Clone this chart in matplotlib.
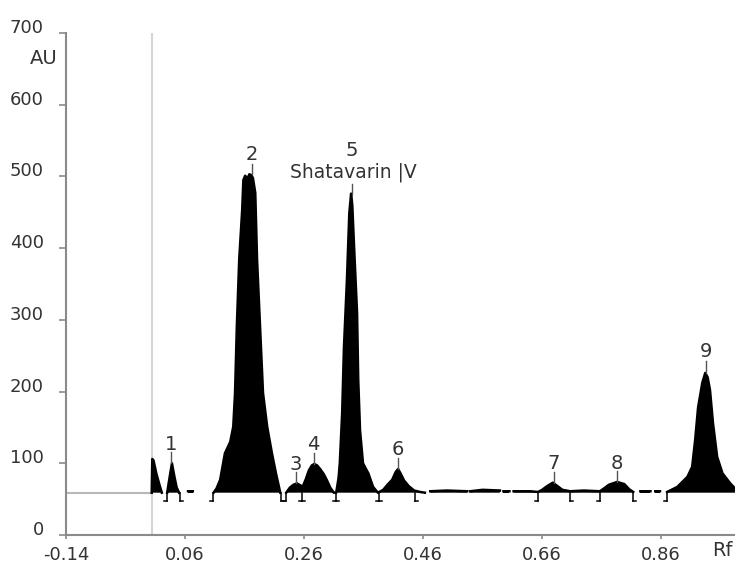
import numpy as np
import matplotlib
matplotlib.use("Agg")
import matplotlib.pyplot as plt
from matplotlib.transforms import ScaledTranslation, blended_transform_factory

# densitogram trace (Rf, AU); nan = gap in the trace
rf = [0.004, 0.005, 0.007, 0.012, 0.017, 0.021, np.nan,
      0.030, 0.034, 0.038, 0.042, 0.046, 0.050, np.nan,
      0.065, 0.073, np.nan,
      0.108, 0.113, 0.119, 0.127, 0.136, 0.141, 0.144, 0.147, 0.151, 0.156,
      0.158, 0.161, 0.165, 0.168, 0.171, 0.174, 0.178, 0.181, 0.186, 0.191,
      0.198, 0.206, 0.213, 0.220, np.nan,
      0.230, 0.236, 0.242, 0.248, 0.254, 0.258, 0.263, 0.268, 0.273, 0.277,
      0.282, 0.287, 0.293, 0.298, 0.304, 0.310, 0.314, 0.318, 0.320, 0.324,
      0.327, 0.332, 0.336, 0.339, 0.341, 0.344, 0.349, 0.351, 0.354, 0.359,
      0.364, 0.368, 0.376, 0.384, 0.393, 0.400, 0.408, 0.414, 0.418, 0.422,
      0.428, 0.436, 0.445, 0.455, 0.463, np.nan,
      0.472, 0.500, 0.534, np.nan,
      0.539, 0.560, 0.589, np.nan,
      0.595, 0.605, np.nan,
      0.612, 0.640, 0.653, 0.660, 0.668, 0.678, 0.686, 0.694, 0.707, 0.730,
      0.757, 0.764, 0.772, 0.786, 0.798, 0.806, 0.813, np.nan,
      0.825, 0.842, np.nan,
      0.850, 0.858, np.nan,
      0.870, 0.887, 0.904, 0.912, 0.917, 0.922, 0.929, 0.934, 0.938, 0.942,
      0.947, 0.954, 0.963, 0.976, 0.984]
au = [59, 106, 104, 85, 70, 59, np.nan,
      59, 80, 100, 82, 66, 59, np.nan,
      61, 61, np.nan,
      59, 65, 77, 114, 130, 151, 198, 290, 384, 453,
      495, 501, 497, 503, 502, 498, 477, 384, 290, 198,
      151, 114, 85, 59, np.nan,
      59, 66, 70, 72, 69, 68, 78, 90, 97, 99,
      97, 92, 85, 77, 66, 59, 59, 80, 100, 170,
      262, 356, 449, 476, 460, 402, 310, 216, 146, 100,
      92, 86, 67, 59, 63, 70, 77, 88, 92, 86,
      76, 68, 62, 60, 59, np.nan,
      61, 62, 61, np.nan,
      61, 63, 62, np.nan,
      61, 61, np.nan,
      61, 61, 60, 63, 68, 73, 68, 63, 61, 62,
      61, 65, 70, 74, 71, 64, 60, np.nan,
      61, 61, np.nan,
      61, 61, np.nan,
      60, 67, 81, 95, 132, 178, 212, 226, 220, 202,
      156, 109, 86, 72, 65]
baseline = 59

# peak labels
peak_names = ['1', '2', '3', '4', '5', '6', '7', '8', '9']
peak_rf = [0.037, 0.172, 0.246, 0.276, 0.340, 0.418, 0.680, 0.786, 0.935]
peak_top = [100, 503, 72, 99, 476, 92, 73, 74, 226]
tick_top = [116, 518, 88, 115, 490, 108, 88, 89, 242]
label_au = [126, 530, 98, 126, 536, 119, 100, 100, 256]

# integration boundaries
bnd_rf = [0.030, 0.052, 0.107, 0.221, 0.229, 0.257, 0.313, 0.386,
          0.447, 0.653, 0.707, 0.757, 0.813, 0.870]
bnd_kind = ['L', 'R', 'L', 'R', 'L', 'T', 'T', 'T',
            'R', 'L', 'R', 'L', 'R', 'L']

xticks = [-0.14, 0.06, 0.26, 0.46, 0.66, 0.86]
xticklabels = ['-0.14', '0.06', '0.26', '0.46', '0.66', '0.86']
yticks = [0, 100, 200, 300, 400, 500, 600, 700]

txt = '#333333'
gray = '#8a8a8a'

fig = plt.figure(figsize=(7.35, 5.67), dpi=100)
ax = fig.add_axes([66/735, 32/567, 669/735, 502/567])
ax.set_xlim(-0.14, 0.984)
ax.set_ylim(0, 700)

# application line and start baseline
ax.plot([0.004, 0.004], [0, 700], color='#d4d4d4', lw=1.5, zorder=1)
ax.plot([-0.14, 0.004], [baseline, baseline], color='#b8b8b8', lw=1.5, zorder=1)

rf_a = np.array(rf)
au_a = np.array(au)
ax.fill_between(rf_a, baseline, au_a, color='black', lw=0, zorder=2)
ax.plot(rf_a, au_a, color='black', lw=1.8, zorder=3)

# integration markers
dx = 0.005
for x, k in zip(bnd_rf, bnd_kind):
    ax.plot([x, x], [baseline, baseline - 12], color='black', lw=1.1, zorder=3)
    if k in ('L', 'T'):
        ax.plot([x - dx, x], [baseline - 12, baseline - 12], color='black', lw=1.1)
    if k in ('R', 'T'):
        ax.plot([x, x + dx], [baseline - 12, baseline - 12], color='black', lw=1.1)

# peak labels
for n, x, t, tt, ly in zip(peak_names, peak_rf, peak_top, tick_top, label_au):
    ax.plot([x, x], [t, tt], color='#555555', lw=1.0, zorder=3)
    ax.text(x, ly, n, ha='center', va='center', fontsize=14, color=txt)
ax.text(0.236, 506, 'Shatavarin |V', ha='left', va='center', fontsize=13.5, color=txt)

# axes styling
for s in ['top', 'right']:
    ax.spines[s].set_visible(False)
for s in ['left', 'bottom']:
    ax.spines[s].set_color(gray)
    ax.spines[s].set_linewidth(1.5)
ax.set_xticks(xticks)
ax.set_xticklabels(xticklabels)
ax.set_yticks(yticks)
ax.tick_params(axis='x', length=3, width=1.2, color=gray, pad=5,
               labelsize=13, labelcolor=txt)
ax.tick_params(axis='y', length=5, width=1.2, color=gray, pad=11,
               labelsize=13, labelcolor=txt)
for lab in ax.get_yticklabels():
    lab.set_transform(lab.get_transform() +
                      ScaledTranslation(0, 7/100, fig.dpi_scale_trans))

trans = blended_transform_factory(ax.transAxes, ax.transData)
ax.text(-0.013, 664, 'AU', transform=trans, ha='right', va='center',
        fontsize=14, color=txt)
ax.text(0.963, -22, 'Rf', ha='center', va='center', fontsize=14,
        color=txt, clip_on=False)

fig.savefig('out.png', dpi=100)
